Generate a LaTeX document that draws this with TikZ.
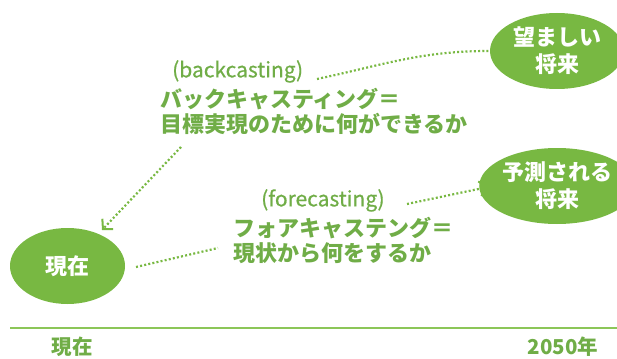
\documentclass[tikz,border=0pt]{standalone}
\usepackage{fontspec}
\setmainfont{Noto Sans CJK JP}
\newfontfamily\latmed{Noto Sans CJK JP}[FakeBold=0.6]
\usetikzlibrary{shapes.geometric,arrows.meta}
\definecolor{gfill}{RGB}{120,184,66}
\definecolor{gtext}{RGB}{112,173,71}
\definecolor{gaxis}{RGB}{140,198,88}
\tikzset{
  bubble/.style={ellipse,fill=gfill,text=white,inner sep=0pt,minimum width=134pt,minimum height=76pt,align=center,font=\fontsize{22}{27}\selectfont\bfseries},
  label/.style={text=gtext,inner sep=0pt,align=left,anchor=north west,font=\fontsize{22}{24.5}\selectfont\bfseries},
  elabel/.style={text=gtext,inner sep=0pt,anchor=north west,font=\fontsize{21}{24}\selectfont\latmed},
  axlabel/.style={text=gtext,inner sep=0pt,font=\fontsize{20.5}{22}\selectfont\bfseries},
  dots/.style={draw=gfill,line width=2.2pt,dash pattern=on 2pt off 2.2pt},
  tip/.style={-{Straight Barb[length=7pt,width=15pt,line width=2pt]}}
}
\begin{document}
\begin{tikzpicture}[x=1pt,y=-1pt]
\useasboundingbox (0,0) rectangle (617,358);
% ellipses
\node[bubble] (want) at (557,51) {望ましい\\将来};
\node[bubble] (pred) at (557,186) {予測される\\将来};
\node[bubble,minimum width=115pt] (now) at (67.5,266) {現在};
% texts
\node[elabel] (bc) at (172,60) {(backcasting)};
\node[label] (bctext) at (160,88) {バックキャスティング＝\\目標実現のために何ができるか};
\node[elabel] (fc) at (261,189) {(forecasting)};
\node[label] (fctext) at (233,217) {フォアキャステング＝\\現状から何をするか};
% connector end points
\coordinate (b1) at (317,79);
\coordinate (b2) at (181,147);
\coordinate (f1) at (218,248);
\coordinate (f2) at (407,204);
\coordinate (wantin) at (489,51);
\coordinate (nowtop) at (102,230);
\coordinate (nowright) at (136,267);
\coordinate (predin) at (488,187);
% connectors
\draw[dots] (b1) to[out=12,in=180] (wantin);
\draw[dots,tip] (b2) -- (nowtop);
\draw[dots] (nowright) -- (f1);
\draw[dots,tip] (f2) -- (predin);
% axis
\coordinate (ax0) at (10,328);
\coordinate (ax1) at (626,328);
\draw[gaxis,line width=2pt,-{Triangle[length=9pt,width=9pt]}] (ax0) -- (ax1);
\node[axlabel] (tnow) at (72,347) {現在};
\node[axlabel] (t2050) at (563,347) {2050年};
\end{tikzpicture}
\end{document}
